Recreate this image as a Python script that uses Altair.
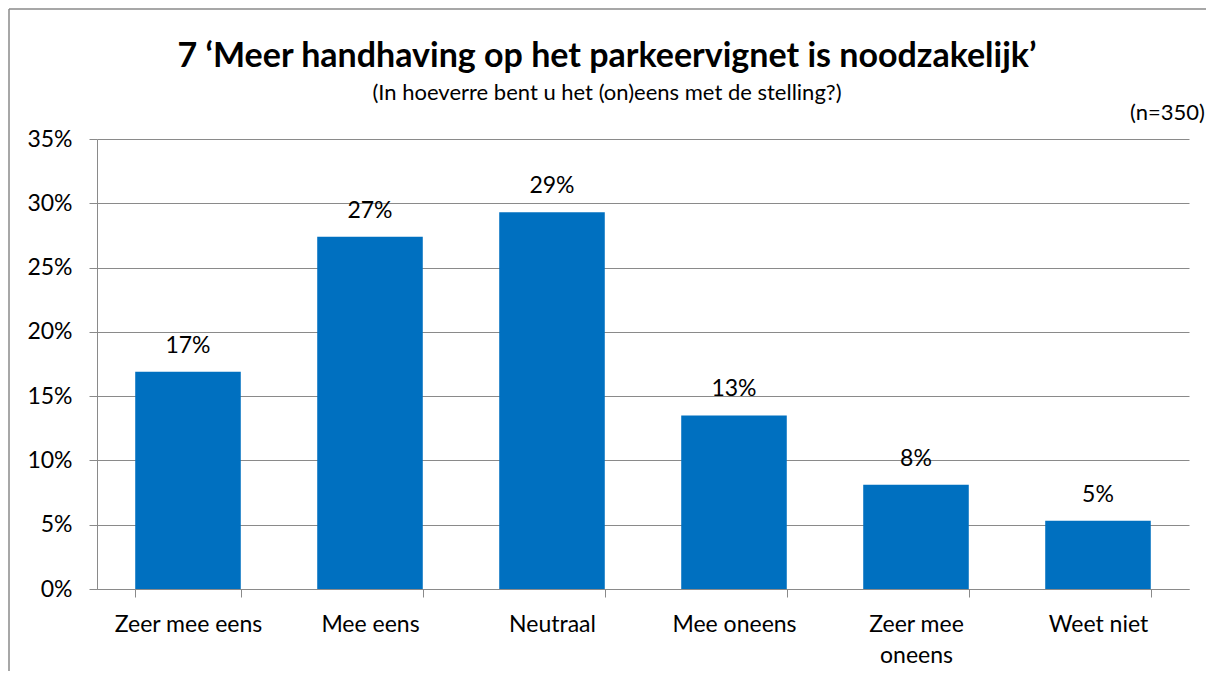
import altair as alt
import pandas as pd

categories = ["Zeer mee eens", "Mee eens", "Neutraal", "Mee oneens", "Zeer mee oneens", "Weet niet"]
values = [0.169, 0.274, 0.293, 0.135, 0.081, 0.053]
labels = ["17%", "27%", "29%", "13%", "8%", "5%"]

title_text = "7 \u2018Meer handhaving op het parkeervignet is noodzakelijk\u2019"
subtitle_text = "(In hoeverre bent u het (on)eens met de stelling?)"
n_text = "(n=350)"

FONT = "Lato"
GRID = "#8a8a8a"
BLUE = "#0070C0"
FS = 23

df = pd.DataFrame({"cat": categories, "val": values, "lab": labels})

x_enc = alt.X(
    "cat:N",
    sort=categories,
    title=None,
    scale=alt.Scale(paddingInner=0.42, paddingOuter=0.21),
    axis=alt.Axis(
        labelAngle=0,
        labelFontSize=FS,
        labelFont=FONT,
        labelColor="black",
        labelPadding=16,
        labelLineHeight=31,
        labelExpr="datum.label == 'Zeer mee oneens' ? ['Zeer mee', 'oneens'] : datum.label",
        tickBand="extent",
        tickSize=8,
        tickColor=GRID,
        domainColor=GRID,
        grid=False,
    ),
)
y_enc = alt.Y(
    "val:Q",
    title=None,
    scale=alt.Scale(domain=[0, 0.35], nice=False),
    axis=alt.Axis(
        values=[0, 0.05, 0.10, 0.15, 0.20, 0.25, 0.30, 0.35],
        format=".0%",
        labelFontSize=FS,
        labelFont=FONT,
        labelColor="black",
        labelPadding=17,
        tickSize=8,
        tickColor=GRID,
        domainColor=GRID,
        gridColor=GRID,
        gridWidth=1,
    ),
)

base = alt.Chart(df)
bars = base.mark_bar(color=BLUE).encode(x=x_enc, y=y_enc)
text = base.mark_text(fontSize=FS, font=FONT, color="black", baseline="alphabetic", dy=-19).encode(
    x=alt.X("cat:N", sort=categories), y="val:Q", text="lab:N"
)

one = alt.Data(values=[{"a": 1}])
title = alt.Chart(one).mark_text(fontSize=34, font=FONT, fontWeight="bold", color="black",
                                 align="center", baseline="alphabetic").encode(
    x=alt.value(510), y=alt.value(-72), text=alt.value(title_text))
subtitle = alt.Chart(one).mark_text(fontSize=22, font=FONT, color="black",
                                    align="center", baseline="alphabetic").encode(
    x=alt.value(510), y=alt.value(-39), text=alt.value(subtitle_text))
ntext = alt.Chart(one).mark_text(fontSize=22, font=FONT, color="black",
                                 align="right", baseline="alphabetic").encode(
    x=alt.value(1108), y=alt.value(-19), text=alt.value(n_text))
border_top = alt.Chart(one).mark_rule(color=GRID, strokeWidth=1.5).encode(
    x=alt.value(-88), x2=alt.value(1125), y=alt.value(-130))
border_left = alt.Chart(one).mark_rule(color=GRID, strokeWidth=1.5).encode(
    x=alt.value(-88), y=alt.value(-130), y2=alt.value(560))

chart = alt.layer(bars, text, title, subtitle, ntext, border_top, border_left).properties(
    width=1092,
    height=450,
    background="white",
    autosize=alt.AutoSizeParams(type="none"),
    padding={"left": 89, "top": 131, "right": 17, "bottom": 82},
).configure_view(stroke=None)

chart.save("out.html", embed_options={"renderer": "svg", "actions": False})
